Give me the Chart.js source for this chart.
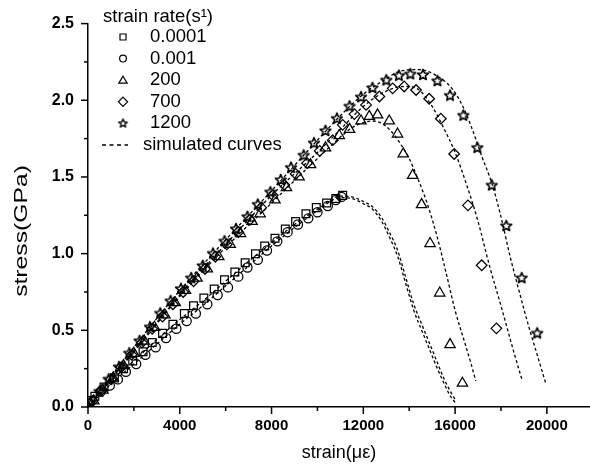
<!DOCTYPE html>
<html><head><meta charset="utf-8">
<script src="https://cdn.jsdelivr.net/npm/chart.js@4/dist/chart.umd.min.js"></script>
<style>html,body{margin:0;padding:0;background:#fff;}#wrap{position:relative;width:590px;height:468px;}</style>
</head><body><div id="wrap"><canvas id="c" width="590" height="468"></canvas></div>
<script>
// ---- labels ----
const legendTitle = 'strain rate(s\u00B9)';
const seriesNames = ['0.0001', '0.001', '200', '700', '1200'];
const simName = 'simulated curves';
const xTitle = 'strain(\u03BC\u03B5)';
const yTitle = 'stress(GPa)';
const xTickValues = [0, 2000, 4000, 6000, 8000, 10000, 12000, 14000, 16000, 18000, 20000];
const yTickValues = [0, 0.25, 0.5, 0.75, 1.0, 1.25, 1.5, 1.75, 2.0, 2.25, 2.5];

// ---- experimental data ----
const sqX = [300,700,1150,1550,1950,2400,2800,3250,3700,4200,4600,5050,5500,5950,6400,6850,7300,7700,8150,8600,9050,9500,9950,10400,10800,11100];
const sqY = [0.07,0.13,0.19,0.25,0.30,0.36,0.42,0.48,0.54,0.61,0.66,0.71,0.77,0.83,0.88,0.94,1.00,1.05,1.10,1.16,1.21,1.26,1.30,1.33,1.36,1.38];
const ciX = [100,550,950,1300,1650,2100,2500,2950,3400,3850,4300,4700,5200,5650,6100,6550,6950,7400,7800,8250,8700,9150,9600,10000,10450,10800,11050];
const ciY = [0.04,0.10,0.14,0.18,0.23,0.28,0.34,0.39,0.45,0.51,0.56,0.61,0.67,0.73,0.78,0.85,0.91,0.96,1.02,1.08,1.14,1.19,1.23,1.27,1.31,1.35,1.37];
const triX = [250,650,1100,1550,2000,2450,2900,3350,3800,4250,4750,5200,5700,6200,6650,7150,7500,8150,8650,9200,9700,10350,10950,11400,11900,12260,12620,13130,13490,13740,14150,14540,14910,15330,15780,16320];
const triY = [0.04,0.11,0.19,0.27,0.35,0.43,0.52,0.60,0.68,0.76,0.84,0.90,0.98,1.06,1.13,1.21,1.26,1.35,1.43,1.50,1.58,1.69,1.77,1.81,1.865,1.895,1.905,1.865,1.78,1.65,1.51,1.32,1.066,0.743,0.407,0.155];
const diaX = [200,600,1000,1450,1900,2350,2800,3250,3700,4150,4600,5100,5550,6050,6550,7050,7550,8050,8550,9050,9550,10100,10670,11100,11610,12120,12700,13280,13780,14300,14870,15380,15960,16560,17160,17800];
const diaY = [0.04,0.11,0.18,0.26,0.34,0.42,0.51,0.59,0.67,0.75,0.82,0.90,0.98,1.06,1.14,1.22,1.30,1.38,1.45,1.52,1.59,1.67,1.74,1.84,1.91,1.97,2.025,2.078,2.09,2.067,2.01,1.88,1.65,1.315,0.924,0.513];
const stX = [100,500,900,1350,1800,2250,2700,3150,3600,4050,4500,5000,5450,5950,6450,6950,7400,7950,8400,8850,9400,9850,10350,10850,11400,11900,12400,13000,13550,14050,14600,15230,15780,16360,16970,17600,18230,18900,19580];
const stY = [0.03,0.10,0.18,0.26,0.35,0.43,0.52,0.61,0.69,0.77,0.84,0.92,1.00,1.08,1.16,1.24,1.32,1.40,1.48,1.56,1.64,1.72,1.80,1.88,1.96,2.02,2.08,2.13,2.16,2.17,2.165,2.125,2.03,1.90,1.69,1.445,1.18,0.84,0.48];

// ---- simulated curves ----
const simLoX = [0,1000,2000,3000,4000,5000,6000,7000,8000,9000,10000,11000,11500,12000,12400,12800,13100,13500,13800,14200,14600,14900,15200,15500,15800,16000];
const simLoAY = [0,0.15,0.28,0.41,0.54,0.66,0.79,0.92,1.05,1.17,1.28,1.365,1.36,1.325,1.29,1.21,1.12,0.98,0.83,0.63,0.48,0.37,0.26,0.16,0.07,0.03];
const simLoBY = [0,0.17,0.30,0.44,0.57,0.69,0.82,0.95,1.07,1.19,1.29,1.375,1.37,1.34,1.305,1.235,1.15,1.02,0.87,0.67,0.52,0.41,0.30,0.19,0.10,0.05];
const s200X = [0,2000,4000,6000,8000,10000,11000,11500,12000,12400,12800,13200,13600,14000,14400,14800,15200,15600,16000,16400,16700,16900];
const s200Y = [0,0.36,0.72,1.04,1.33,1.62,1.76,1.82,1.855,1.865,1.85,1.80,1.72,1.62,1.48,1.32,1.12,0.88,0.63,0.43,0.28,0.17];
const s700X = [0,2000,4000,6000,8000,10000,11000,12000,13000,13800,14400,15000,15500,16000,16500,17000,17500,18000,18500,18930];
const s700Y = [0,0.37,0.73,1.06,1.38,1.66,1.81,1.96,2.06,2.09,2.07,1.96,1.82,1.66,1.45,1.21,0.92,0.66,0.39,0.17];
const s1200X = [0,2000,4000,6000,8000,10000,11000,12000,13000,13600,14400,15200,15900,16400,16800,17200,17600,18000,18400,18800,19200,19600,19950];
const s1200Y = [0,0.39,0.76,1.09,1.41,1.74,1.90,2.04,2.14,2.19,2.20,2.16,2.07,1.94,1.79,1.62,1.46,1.24,0.98,0.75,0.53,0.33,0.155];

const FONT = "'Liberation Sans', Arial, sans-serif";
const pts = (xs, ys) => xs.map((x, i) => ({x: x, y: ys[i]}));

function makeStar(r, lw) {
  const s = Math.ceil(r * 2 + 4);
  const c = document.createElement('canvas');
  c.width = s; c.height = s;
  const g = c.getContext('2d');
  g.strokeStyle = '#000'; g.lineWidth = lw; g.lineJoin = 'round';
  g.beginPath();
  for (let i = 0; i < 10; i++) {
    const a = -Math.PI / 2 + i * Math.PI / 5;
    const rr = i % 2 === 0 ? r : r * 0.45;
    const px = s / 2 + rr * Math.cos(a), py = s / 2 + rr * Math.sin(a);
    if (i === 0) g.moveTo(px, py); else g.lineTo(px, py);
  }
  g.closePath(); g.stroke();
  return c;
}
const starBig = makeStar(5.6, 1.6);
const starSmall = makeStar(4.4, 1.4);

const markerDs = (label, data, style, r) => ({
  label, data, pointStyle: style, pointRadius: r, pointHoverRadius: r,
  pointBorderColor: '#000', pointBackgroundColor: 'rgba(0,0,0,0)', pointBorderWidth: 1.25,
  showLine: false
});
const simDs = (label, data) => ({
  label, data, showLine: true, pointRadius: 0, borderColor: '#000', borderWidth: 1.3,
  borderDash: [3, 2.5], cubicInterpolationMode: 'monotone', fill: false
});

const decor = {
  id: 'decor',
  afterDraw(chart) {
    const ctx = chart.ctx;
    const xs = chart.scales.x, ys = chart.scales.y;
    const a = chart.chartArea;
    ctx.save();
    ctx.strokeStyle = '#000'; ctx.lineWidth = 1.5;
    xTickValues.forEach(v => {
      const px = xs.getPixelForValue(v);
      const len = v % 4000 === 0 ? 7 : 4;
      ctx.beginPath(); ctx.moveTo(px, a.bottom); ctx.lineTo(px, a.bottom + len); ctx.stroke();
    });
    yTickValues.forEach(v => {
      const py = ys.getPixelForValue(v);
      const len = Math.abs(v * 2 - Math.round(v * 2)) < 1e-6 ? 7 : 4;
      ctx.beginPath(); ctx.moveTo(a.left, py); ctx.lineTo(a.left - len, py); ctx.stroke();
    });
    // axis titles
    ctx.fillStyle = '#000';
    ctx.textAlign = 'center'; ctx.textBaseline = 'middle';
    ctx.font = '18px ' + FONT;
    ctx.fillText(xTitle, (a.left + a.right) / 2, 453);
    ctx.save();
    ctx.translate(22, 231); ctx.rotate(-Math.PI / 2); ctx.scale(1.3, 1);
    ctx.font = '19px ' + FONT;
    ctx.fillText(yTitle, 0, 0);
    ctx.restore();
    // legend
    ctx.textAlign = 'left';
    ctx.font = '18.5px ' + FONT;
    ctx.fillText(legendTitle, 103, 17);
    const styles = ['rect', 'circle', 'triangle', 'rectRot', 'star'];
    ctx.lineWidth = 1.2;
    styles.forEach((st, i) => {
      const y = 37 + i * 21.6, x = 123;
      ctx.beginPath();
      if (st === 'rect') ctx.rect(x - 3, y - 3, 6, 6);
      else if (st === 'circle') ctx.arc(x, y, 3.4, 0, Math.PI * 2);
      else if (st === 'triangle') { ctx.moveTo(x, y - 4); ctx.lineTo(x + 4.2, y + 3); ctx.lineTo(x - 4.2, y + 3); ctx.closePath(); }
      else if (st === 'rectRot') { ctx.moveTo(x, y - 4.6); ctx.lineTo(x + 4.6, y); ctx.lineTo(x, y + 4.6); ctx.lineTo(x - 4.6, y); ctx.closePath(); }
      if (st === 'star') ctx.drawImage(starSmall, x - starSmall.width / 2, y - starSmall.height / 2);
      else ctx.stroke();
      ctx.fillText(seriesNames[i], 150, y);
    });
    const yl = 37 + 5 * 21.6;
    ctx.setLineDash([4, 3.5]); ctx.lineWidth = 1.6;
    ctx.beginPath(); ctx.moveTo(102, yl); ctx.lineTo(128, yl); ctx.stroke();
    ctx.setLineDash([]);
    ctx.fillText(simName, 143, yl);
    ctx.restore();
  }
};

new Chart(document.getElementById('c'), {
  type: 'scatter',
  data: {
    datasets: [
      markerDs(seriesNames[0], pts(sqX, sqY), 'rect', 5.5),
      markerDs(seriesNames[1], pts(ciX, ciY), 'circle', 4.6),
      markerDs(seriesNames[2], pts(triX, triY), 'triangle', 6),
      markerDs(seriesNames[3], pts(diaX, diaY), 'rectRot', 5.3),
      markerDs(seriesNames[4], pts(stX, stY), starBig, 5.5),
      simDs(simName, pts(simLoX, simLoAY)),
      simDs(simName, pts(simLoX, simLoBY)),
      simDs(simName, pts(s200X, s200Y)),
      simDs(simName, pts(s700X, s700Y)),
      simDs(simName, pts(s1200X, s1200Y))
    ]
  },
  options: {
    responsive: false, animation: false, devicePixelRatio: 1,
    layout: {autoPadding: false, padding: {top: 15, right: 0, left: 0, bottom: 0}},
    plugins: {legend: {display: false}, tooltip: {enabled: false}},
    scales: {
      x: {
        type: 'linear', min: 0, max: 21880,
        afterBuildTicks: s => { s.ticks = xTickValues.map(v => ({value: v})); },
        afterFit: s => { s.height = 61; },
        ticks: {
          autoSkip: false, maxRotation: 0, padding: 10, color: '#000',
          font: {family: FONT, size: 15, weight: 'bold'},
          callback: v => (v % 4000 === 0 ? String(v) : '')
        },
        grid: {display: false, drawTicks: false},
        border: {display: true, color: '#000', width: 1.5}
      },
      y: {
        type: 'linear', min: 0, max: 2.5,
        afterBuildTicks: s => { s.ticks = yTickValues.map(v => ({value: v})); },
        afterFit: s => { s.width = 88; },
        ticks: {
          autoSkip: false, padding: 14, color: '#000',
          font: {family: FONT, size: 16, weight: 'bold'},
          callback: v => (Math.abs(v * 2 - Math.round(v * 2)) < 1e-6 ? v.toFixed(1) : '')
        },
        grid: {display: false, drawTicks: false},
        border: {display: true, color: '#000', width: 1.5}
      }
    }
  },
  plugins: [decor]
});
</script></body></html>
